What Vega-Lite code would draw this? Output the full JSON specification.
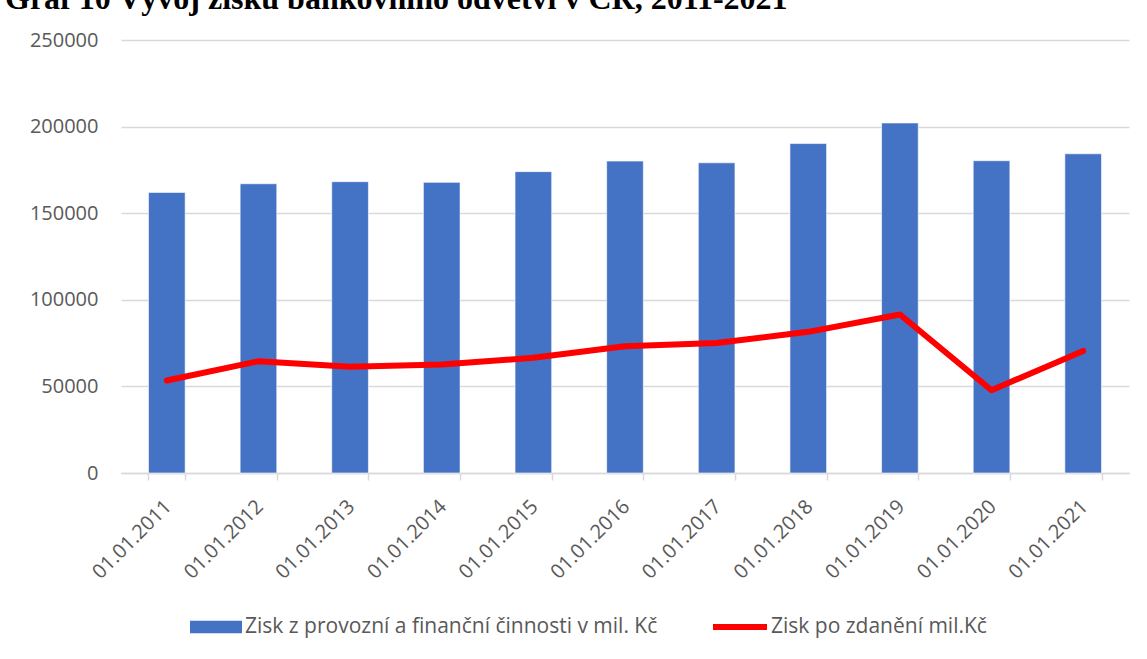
{
  "$schema": "https://vega.github.io/schema/vega-lite/v6.json",
  "width": 1008,
  "height": 433,
  "autosize": "none",
  "padding": {"left": 121, "top": 40, "right": 18, "bottom": 186},
  "background": "white",
  "config": {"view": {"stroke": null}},
  "title": {
    "text": "Graf 10 Vývoj zisku bankovního odvětví v ČR, 2011-2021",
    "font": "Liberation Serif",
    "fontSize": 32,
    "fontWeight": "bold",
    "color": "#000000",
    "anchor": "start",
    "frame": "group",
    "baseline": "alphabetic",
    "offset": 17,
    "dx": -116,
    "dy": 28
  },
  "data": {
    "values": [
      {"datum": "01.01.2011", "provozni": 162000, "zdaneni": 53400},
      {"datum": "01.01.2012", "provozni": 167000, "zdaneni": 64500},
      {"datum": "01.01.2013", "provozni": 168200, "zdaneni": 61300},
      {"datum": "01.01.2014", "provozni": 167800, "zdaneni": 62600},
      {"datum": "01.01.2015", "provozni": 174000, "zdaneni": 66500},
      {"datum": "01.01.2016", "provozni": 180100, "zdaneni": 73200},
      {"datum": "01.01.2017", "provozni": 179100, "zdaneni": 75100},
      {"datum": "01.01.2018", "provozni": 190200, "zdaneni": 81500},
      {"datum": "01.01.2019", "provozni": 202100, "zdaneni": 91500},
      {"datum": "01.01.2020", "provozni": 180300, "zdaneni": 47800},
      {"datum": "01.01.2021", "provozni": 184300, "zdaneni": 70500}
    ]
  },
  "encoding": {
    "x": {
      "field": "datum",
      "type": "nominal",
      "sort": null,
      "scale": {"paddingInner": 0.6, "paddingOuter": 0.3},
      "axis": {
        "title": null,
        "labelAngle": -45,
        "labelFont": "Open Sans",
        "labelFontSize": 20,
        "labelColor": "#595959",
        "labelPadding": 16,
        "labelOffset": -6,
        "tickBand": "extent",
        "tickColor": "#D9D9D9",
        "tickWidth": 1.5,
        "tickSize": 7,
        "domainColor": "#D9D9D9",
        "domainWidth": 1.5,
        "grid": false
      }
    }
  },
  "layer": [
    {
      "mark": {"type": "bar", "stroke": "#ffffff", "strokeWidth": 0.6},
      "encoding": {
        "y": {
          "field": "provozni",
          "type": "quantitative",
          "scale": {"domain": [0, 250000], "nice": false},
          "axis": {
            "title": null,
            "values": [0, 50000, 100000, 150000, 200000, 250000],
            "format": "d",
            "domain": false,
            "ticks": false,
            "labelPadding": 23,
            "labelFont": "Open Sans",
            "labelFontSize": 20,
            "labelColor": "#595959",
            "gridColor": "#D9D9D9",
            "gridWidth": 1.5
          }
        },
        "color": {
          "datum": "Zisk z provozní a finanční činnosti v mil. Kč",
          "type": "nominal",
          "scale": {
            "domain": ["Zisk z provozní a finanční činnosti v mil. Kč"],
            "range": ["#4472C4"]
          },
          "legend": {
            "title": null,
            "orient": "none",
            "legendX": 69,
            "legendY": 561,
            "labelFont": "Open Sans",
            "labelFontSize": 21,
            "labelColor": "#595959",
            "labelLimit": 600,
            "symbolSize": 2704,
            "symbolType": "M-1,-0.24H1V0.24H-1Z",
            "symbolStrokeWidth": 0,
            "labelOffset": 3
          }
        }
      }
    },
    {
      "mark": {"type": "line", "strokeWidth": 6, "strokeCap": "round", "strokeJoin": "round"},
      "encoding": {
        "y": {"field": "zdaneni", "type": "quantitative"},
        "stroke": {
          "datum": "Zisk po zdanění mil.Kč",
          "type": "nominal",
          "scale": {"domain": ["Zisk po zdanění mil.Kč"], "range": ["#FF0000"]},
          "legend": {
            "title": null,
            "orient": "none",
            "legendX": 589,
            "legendY": 557,
            "labelFont": "Open Sans",
            "labelFontSize": 21,
            "labelColor": "#595959",
            "labelLimit": 600,
            "symbolSize": 2916,
            "symbolType": "M-1,0H1",
            "symbolStrokeWidth": 6,
            "labelOffset": 1
          }
        }
      }
    }
  ]
}
